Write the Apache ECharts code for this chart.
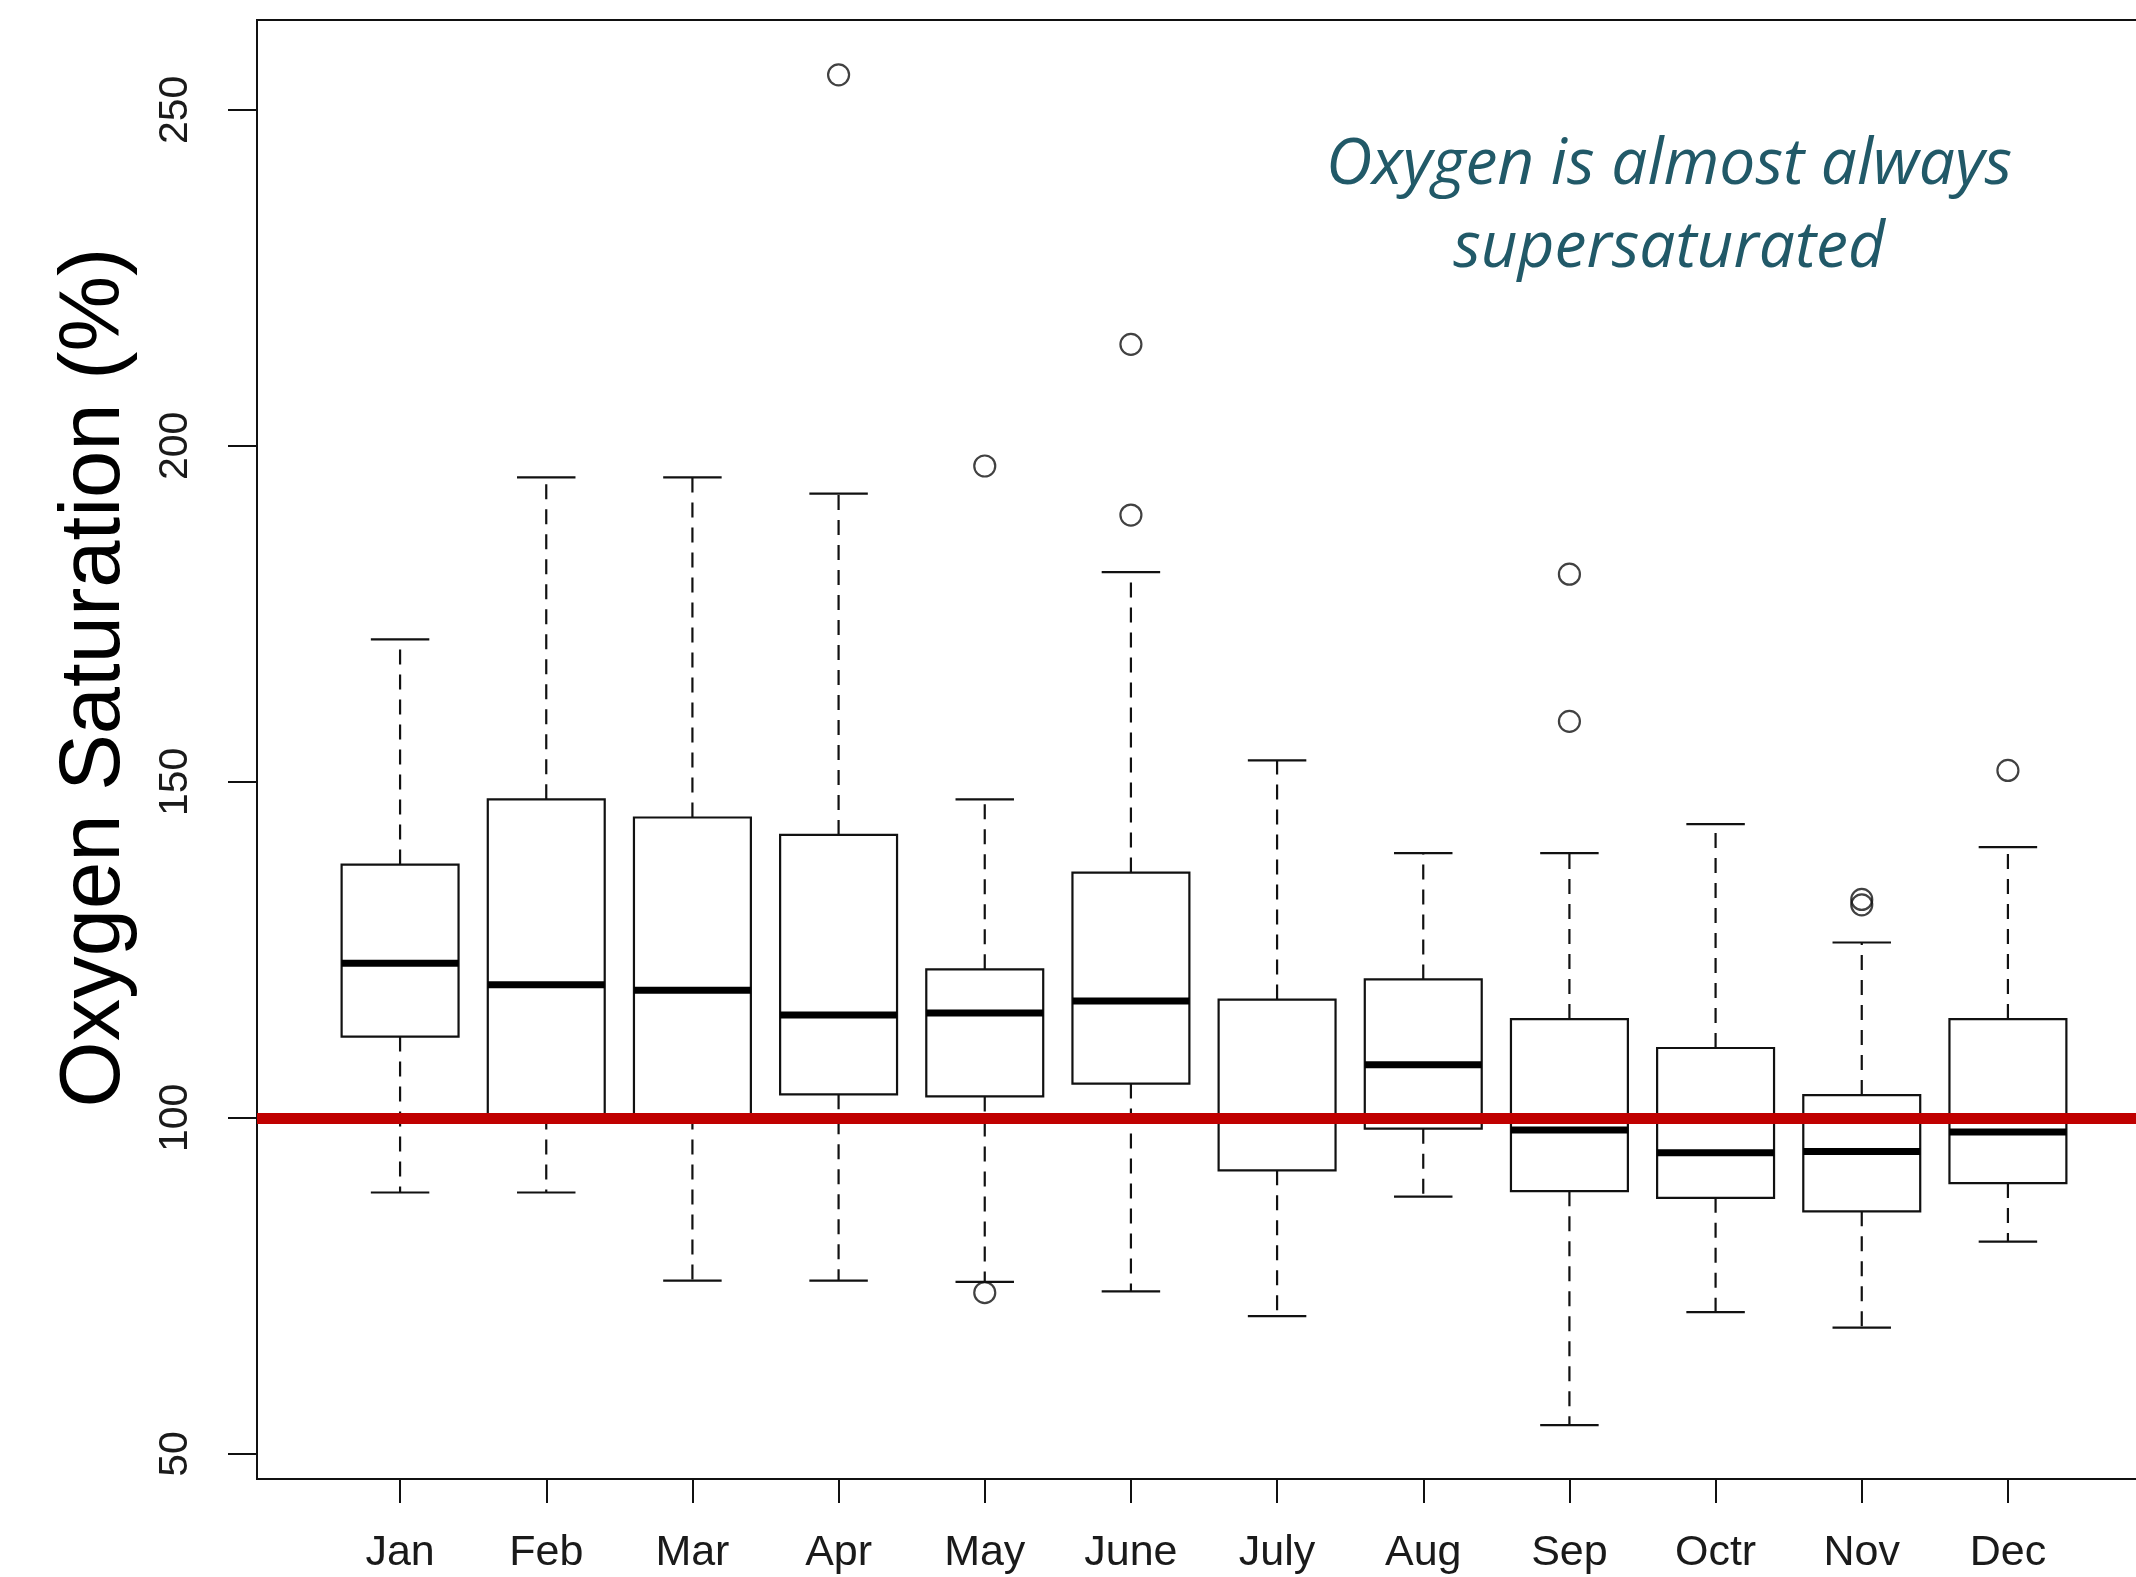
<!DOCTYPE html>
<html>
<head>
<meta charset="utf-8">
<script src="https://cdn.jsdelivr.net/npm/echarts@6/dist/echarts.min.js"></script>
<style>
  html, body { margin: 0; padding: 0; background: #fff; }
  #chart { width: 2136px; height: 1577px; }
</style>
</head>
<body>
<div id="chart"></div>
<script>
// ---- data ----
const months = ['Jan', 'Feb', 'Mar', 'Apr', 'May', 'June', 'July', 'Aug', 'Sep', 'Octr', 'Nov', 'Dec'];
const whiskerLow  = [88.9, 88.9, 75.8, 75.8, 75.6, 74.2, 70.5, 88.3, 54.3, 71.1, 68.8, 81.6];
const q1          = [112.1, 100.5, 100.5, 103.5, 103.2, 105.1, 92.2, 98.4, 89.1, 88.1, 86.1, 90.3];
const median      = [123.0, 119.8, 119.0, 115.3, 115.6, 117.4, 99.6, 107.9, 98.2, 94.8, 95.0, 97.9];
const q3          = [137.7, 147.4, 144.7, 142.1, 122.1, 136.5, 117.6, 120.6, 114.7, 110.4, 103.4, 114.7];
const whiskerHigh = [171.2, 195.3, 195.3, 192.9, 147.4, 181.2, 153.2, 139.4, 139.4, 143.7, 126.1, 140.3];
const outlierMonth = ['Apr', 'May', 'May', 'June', 'June', 'Sep', 'Sep', 'Nov', 'Nov', 'Dec'];
const outlierValue = [255.2, 197.0, 74.0, 215.1, 189.7, 180.9, 159.0, 132.5, 131.7, 151.7];
const yTicks = [50, 100, 150, 200, 250];
const saturationLevel = 100;
const yRange = [46.27, 263.36];
const yTitle = 'Oxygen Saturation (%)';
const note = 'Oxygen is almost always\nsupersaturated';

// ---- chart ----
const INK = '#111';
const LABEL_FONT = 'Liberation Sans, Arial, sans-serif';
const BOX_RATIO = 0.8, CAP_RATIO = 0.4;

const boxData = months.map((m, i) => [i, whiskerLow[i], q1[i], median[i], q3[i], whiskerHigh[i]]);
const outlierData = outlierMonth.map((m, i) => [m, outlierValue[i]]);

function renderBox(params, api) {
  const idx = api.value(0);
  const band = api.size([1, 0])[0];
  const boxW = band * BOX_RATIO, capW = band * CAP_RATIO;
  const pLo = api.coord([idx, api.value(1)]);
  const pQ1 = api.coord([idx, api.value(2)]);
  const pMed = api.coord([idx, api.value(3)]);
  const pQ3 = api.coord([idx, api.value(4)]);
  const pHi = api.coord([idx, api.value(5)]);
  const x = pMed[0];
  const dash = { stroke: INK, lineWidth: 2.2, lineDash: [15, 10], fill: null };
  const solid = { stroke: INK, lineWidth: 2.2, fill: null };
  return {
    type: 'group',
    children: [
      { type: 'line', shape: { x1: x, y1: pQ3[1], x2: x, y2: pHi[1] }, style: dash },
      { type: 'line', shape: { x1: x, y1: pQ1[1], x2: x, y2: pLo[1] }, style: dash },
      { type: 'line', shape: { x1: x - capW / 2, y1: pHi[1], x2: x + capW / 2, y2: pHi[1] }, style: solid },
      { type: 'line', shape: { x1: x - capW / 2, y1: pLo[1], x2: x + capW / 2, y2: pLo[1] }, style: solid },
      { type: 'rect', shape: { x: x - boxW / 2, y: pQ3[1], width: boxW, height: pQ1[1] - pQ3[1] },
        style: { fill: '#fff', stroke: INK, lineWidth: 2.2 } },
      { type: 'line', shape: { x1: x - boxW / 2, y1: pMed[1], x2: x + boxW / 2, y2: pMed[1] },
        style: { stroke: '#000', lineWidth: 7 } }
    ]
  };
}

const chart = echarts.init(document.getElementById('chart'), null, { renderer: 'canvas' });
chart.setOption({
  animation: false,
  backgroundColor: '#fff',
  grid: [
    { left: 257, right: -15, top: 20, bottom: 98, show: true, borderColor: INK, borderWidth: 2,
      backgroundColor: 'transparent', containLabel: false, outerBoundsMode: 'none' },
    { left: 327, right: 55, top: 20, bottom: 98, containLabel: false, outerBoundsMode: 'none' }
  ],
  xAxis: [
    { gridIndex: 0, type: 'value', min: 0, max: 1, show: false },
    { gridIndex: 1, type: 'category', data: months,
      axisLine: { show: false },
      axisTick: { show: true, alignWithLabel: true, length: 24, lineStyle: { color: INK, width: 2 } },
      axisLabel: { interval: 0, margin: 53, fontSize: 43, fontFamily: LABEL_FONT, color: '#1a1a1a' },
      splitLine: { show: false } }
  ],
  yAxis: [
    { gridIndex: 0, type: 'value', min: yRange[0], max: yRange[1],
      axisLine: { show: false },
      axisTick: { show: true, customValues: yTicks, length: 29, lineStyle: { color: INK, width: 2 } },
      axisLabel: { customValues: yTicks, rotate: 90, margin: 61, fontSize: 41, fontFamily: LABEL_FONT, color: '#1a1a1a' },
      splitLine: { show: false },
      name: yTitle, nameLocation: 'middle', nameGap: 119, nameRotate: 90,
      nameTextStyle: { fontSize: 85, fontFamily: LABEL_FONT, color: '#000', padding: [0, 0, 0, 144] } },
    { gridIndex: 1, type: 'value', min: yRange[0], max: yRange[1], show: false, splitLine: { show: false } }
  ],
  graphic: [
    { type: 'text', x: 1669, y: 124, z: 100,
      style: { text: note, textAlign: 'center', textVerticalAlign: 'top',
        font: 'italic 64px "Open Sans"', lineHeight: 83, fill: '#215968' } }
  ],
  series: [
    { type: 'custom', name: 'box', xAxisIndex: 1, yAxisIndex: 1, renderItem: renderBox,
      encode: { x: 0, y: [1, 2, 3, 4, 5] }, data: boxData, z: 2 },
    { type: 'scatter', name: 'outliers', xAxisIndex: 1, yAxisIndex: 1, data: outlierData,
      symbol: 'circle', symbolSize: 21,
      itemStyle: { color: 'rgba(0,0,0,0)', borderColor: INK, borderWidth: 2.2 }, z: 3 },
    { type: 'line', name: 'saturation', xAxisIndex: 0, yAxisIndex: 0, data: [], z: 10, silent: true,
      markLine: { symbol: 'none', silent: true, label: { show: false },
        lineStyle: { color: '#c00000', width: 11, type: 'solid' },
        data: [{ yAxis: saturationLevel }] } }
  ]
});
</script>
</body>
</html>
